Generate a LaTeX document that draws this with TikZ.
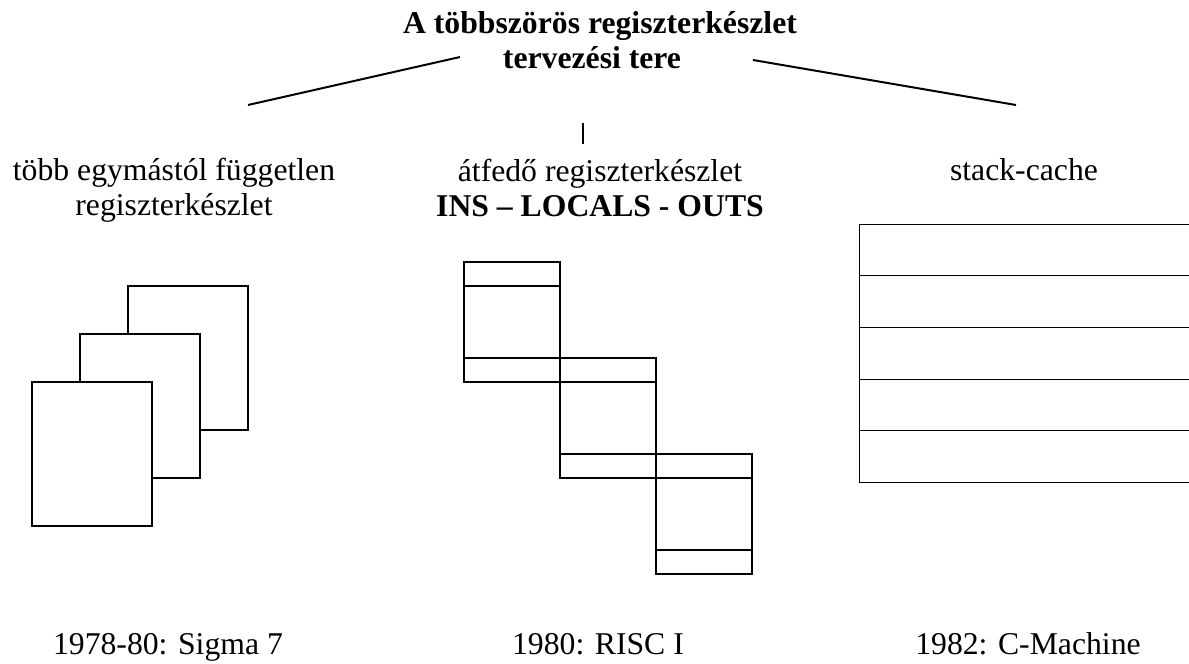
\documentclass[tikz,border=0pt]{standalone}
\usepackage{fontspec}
\setmainfont{Liberation Serif}
\begin{document}
\begin{tikzpicture}[x=1pt,y=-1pt,
  regbox/.style={draw,line width=2pt,fill=white},
  band/.style={line width=2pt},
  cacheline/.style={line width=1pt},
  conn/.style={line width=2pt},
  tick/.style={line width=1.5pt},
  lbl/.style={font=\fontsize{31.7}{36}\selectfont,inner sep=0pt,anchor=base},
  boldlbl/.style={lbl,font=\fontsize{31.7}{36}\selectfont\bfseries}]
\useasboundingbox[fill=white] (0,0) rectangle (1189,664);

% title
\node[boldlbl] (t1) at (600,33) {A többszörös regiszterkészlet};
\node[boldlbl] (t2) at (592,68) {tervezési tere};

% branches
\coordinate (lu) at (460,57);
\coordinate (ll) at (248,105);
\coordinate (ru) at (753,60);
\coordinate (rl) at (1016,105);
\coordinate (mu) at (583,123);
\coordinate (ml) at (583,144);
\draw[conn] (lu) -- (ll);
\draw[conn] (ru) -- (rl);
\draw[tick] (mu) -- (ml);

% column headings
\node[lbl] (l1) at (174,180) {több egymástól független};
\node[lbl] (l2) at (174,215) {regiszterkészlet};
\node[lbl] (m1) at (600,181) {átfedő regiszterkészlet};
\node[boldlbl] (m2) at (600,216) {INS – LOCALS - OUTS};
\node[lbl] (r1) at (1024,180) {stack-cache};

% independent register sets
\draw[regbox] (128,286) rectangle (248,430);
\draw[regbox] (80,334) rectangle (200,478);
\draw[regbox] (32,382) rectangle (152,526);

% overlapping windows
\foreach \i in {0,1,2} {
  \pgfmathsetmacro{\xa}{464+96*\i}
  \pgfmathsetmacro{\ya}{262+96*\i}
  \draw[regbox,fill=none] (\xa,\ya) rectangle (\xa+96,\ya+120);
  \draw[band] (\xa,\ya+24) -- (\xa+96,\ya+24);
  \draw[band] (\xa,\ya+96) -- (\xa+96,\ya+96);
}

% stack cache
\draw[cacheline] (1195,224) -- (859,224) -- (859,482) -- (1195,482);
\foreach \y in {275,327,379,430} \draw[cacheline] (859,\y) -- (1195,\y);

% years
\node[lbl] (y1) at (168,654) {1978-80: Sigma 7};
\node[lbl] (y2) at (598,654) {1980: RISC I};
\node[lbl] (y3) at (1028,654) {1982: C-Machine};
\end{tikzpicture}
\end{document}
